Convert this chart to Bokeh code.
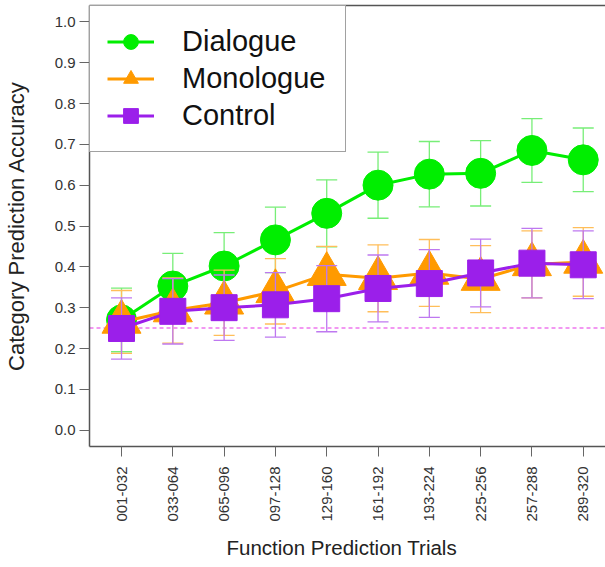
from bokeh.plotting import figure
from bokeh.models import (Range1d, FixedTicker, PrintfTickFormatter, Span, Legend,
                          LegendItem, LinearAxis, Title)
from bokeh.embed import file_html
from bokeh.resources import INLINE

# ---- data ----
trials = ["001-032", "033-064", "065-096", "097-128", "129-160",
          "161-192", "193-224", "225-256", "257-288", "289-320"]
trial_pos = [1, 2, 3, 4, 5, 6, 7, 8, 9, 10]

dialogue = [0.270, 0.353, 0.402, 0.466, 0.531, 0.600, 0.627, 0.629, 0.685, 0.662]
dialogue_err = [0.078, 0.080, 0.082, 0.080, 0.082, 0.081, 0.080, 0.080, 0.078, 0.078]

monologue = [0.265, 0.293, 0.312, 0.340, 0.382, 0.372, 0.385, 0.370, 0.406, 0.412]
monologue_err = [0.077, 0.080, 0.080, 0.080, 0.068, 0.082, 0.082, 0.082, 0.082, 0.084]

control = [0.249, 0.291, 0.300, 0.307, 0.322, 0.347, 0.359, 0.385, 0.409, 0.405]
control_err = [0.075, 0.080, 0.080, 0.079, 0.081, 0.082, 0.083, 0.083, 0.085, 0.083]

chance_level = 0.25
y_ticks = [0.0, 0.1, 0.2, 0.3, 0.4, 0.5, 0.6, 0.7, 0.8, 0.9, 1.0]

FONT = "Liberation Sans"

p = figure(width=605, height=567, output_backend="svg", toolbar_location=None,
           x_range=Range1d(0.376, 10.434), y_range=Range1d(-0.04, 1.04),
           min_border_left=89, min_border_right=0, min_border_top=5,
           min_border_bottom=121)
p.outline_line_color = None
p.grid.visible = False
p.background_fill_color = "white"
p.border_fill_color = "white"

# axes
xa = p.xaxis[0]
xa.ticker = FixedTicker(ticks=trial_pos)
xa.major_label_overrides = {k: v for k, v in zip(trial_pos, trials)}
xa.major_label_orientation = 3.14159265 / 2
xa.minor_tick_line_color = None
xa.major_tick_in = 0
xa.major_tick_out = 10
xa.major_label_standoff = 10

ya = p.yaxis[0]
ya.ticker = FixedTicker(ticks=y_ticks)
ya.formatter = PrintfTickFormatter(format="%.1f")
ya.minor_tick_line_color = None
ya.major_tick_in = 0
ya.major_tick_out = 10
ya.major_label_standoff = 4
ya.axis_label = "Category Prediction Accuracy"
ya.axis_label_standoff = 23

for ax in (xa, ya):
    ax.axis_line_color = "#555555"
    ax.axis_line_width = 1.5
    ax.major_tick_line_color = "#666666"
    ax.major_label_text_font = FONT
    ax.major_label_text_font_size = "15px"
    ax.major_label_text_color = "#333333"
    ax.axis_label_text_font = FONT
    ax.axis_label_text_font_style = "normal"
    ax.axis_label_text_color = "#222222"
ya.axis_label_text_font_size = "22px"

p.add_layout(Title(text="Function Prediction Trials", align="left", offset=137,
                   standoff=18, text_font=FONT, text_font_size="20.5px",
                   text_font_style="normal", text_color="#222222"), "below")

top_axis = LinearAxis(ticker=FixedTicker(ticks=[]), major_tick_out=0, major_tick_in=0,
                      minor_tick_out=0, minor_tick_in=0, major_label_text_font_size="0px",
                      major_label_standoff=0, axis_line_color="#555555", axis_line_width=1.5)
p.add_layout(top_axis, "above")

# chance line
p.add_layout(Span(location=chance_level, dimension="width", line_color="#EE77EE",
                  line_dash="4 3", line_width=1.5, level="underlay"))

series = [
    ("Dialogue", dialogue, dialogue_err, "#00EE00", "#77EE77", "circle", 30),
    ("Monologue", monologue, monologue_err, "#FF9A00", "#FFBE5A", "triangle", 39),
    ("Control", control, control_err, "#9B1FEA", "#BE78F0", "square", 26),
]

items = []
for name, vals, errs, col, ecol, marker, size in series:
    lower = [v - e for v, e in zip(vals, errs)]
    upper = [v + e for v, e in zip(vals, errs)]
    p.segment(x0=trial_pos, y0=lower, x1=trial_pos, y1=upper, line_color=ecol, line_width=1.3)
    p.scatter(trial_pos, lower, marker="dash", size=21, line_color=ecol, line_width=1.3)
    p.scatter(trial_pos, upper, marker="dash", size=21, line_color=ecol, line_width=1.3)
    lr = p.line(trial_pos, vals, line_color=col, line_width=3)
    mr = p.scatter(trial_pos, vals, marker=marker, size=size, fill_color=col, line_color=col)
    items.append(LegendItem(label=name, renderers=[lr, mr]))

legend = Legend(items=items, location="top_left", margin=0, padding=17, spacing=0,
                glyph_width=47, glyph_height=37, label_height=37, label_width=146,
                label_standoff=28, label_text_font=FONT, label_text_font_size="29px",
                label_text_color="#111111", border_line_color="#444444",
                border_line_width=1.5, background_fill_color="white", background_fill_alpha=1)
p.add_layout(legend)

open("out.html", "w").write(file_html(p, INLINE))
